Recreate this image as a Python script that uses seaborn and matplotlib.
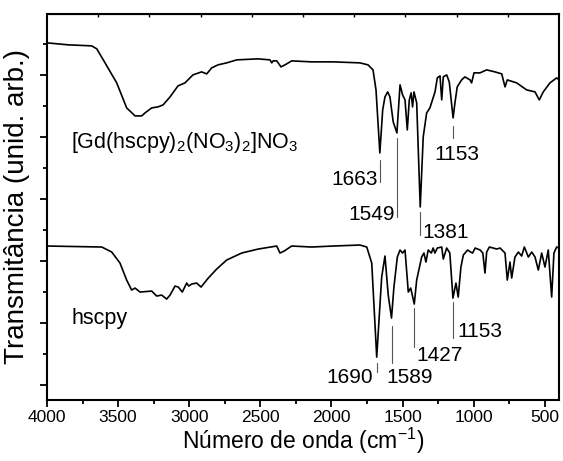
import numpy as np
import pandas as pd
import seaborn as sns
import matplotlib.pyplot as plt
from matplotlib.ticker import MultipleLocator

# spectra (wavenumber in cm-1, transmittance in arb. units)
gd_wn = [4000, 3850, 3686, 3650, 3592, 3510, 3440, 3381, 3334, 3311, 3264, 3220,
         3184, 3135, 3079, 3030, 2974, 2913, 2877, 2842, 2798, 2737, 2666, 2517,
         2432, 2420, 2410, 2385, 2355, 2327, 2280, 2139, 1989, 1800, 1743, 1708,
         1687, 1660, 1640, 1624, 1605, 1589, 1566, 1540, 1518, 1500, 1483, 1467,
         1453, 1440, 1430, 1420, 1401, 1376, 1355, 1331, 1308, 1272, 1256, 1237,
         1225, 1214, 1190, 1172, 1145, 1132, 1116, 1085, 1062, 1026, 1015, 998,
         956, 909, 851, 803, 780, 764, 698, 628, 569, 539, 511, 464, 417, 400]
gd_t = [342, 340, 339, 336, 322, 302, 277, 269, 269, 272, 277, 278,
        280, 288, 299, 302, 310, 313, 311, 317, 320, 322, 325, 326,
        325, 322, 324, 324, 318, 320, 324, 323, 323, 322, 320, 315,
        295, 232, 275, 288, 293, 288, 263, 252, 300, 290, 285, 255,
        285, 292, 278, 293, 282, 178, 248, 272, 277, 293, 307, 309,
        285, 308, 310, 303, 267, 282, 298, 305, 308, 305, 302, 312,
        312, 315, 313, 311, 298, 305, 302, 295, 293, 285, 293, 302, 307, 305]

hs_wn = [4000, 3615, 3545, 3487, 3440, 3405, 3381, 3346, 3264, 3229, 3194, 3159,
         3135, 3100, 3077, 3049, 3018, 3004, 2983, 2948, 2917, 2866, 2807, 2737,
         2631, 2514, 2385, 2362, 2332, 2280, 2139, 1987, 1800, 1752, 1717, 1682,
         1647, 1624, 1601, 1578, 1561, 1537, 1518, 1500, 1483, 1460, 1443, 1418,
         1401, 1366, 1350, 1336, 1320, 1298, 1285, 1273, 1256, 1225, 1214, 1190,
         1168, 1146, 1125, 1109, 1090, 1073, 1043, 1022, 1008, 990, 955, 936,
         921, 909, 890, 838, 815, 780, 764, 745, 733, 710, 686, 663, 644, 616,
         592, 569, 546, 522, 499, 476, 452, 436, 417, 400]
hs_t = [139, 138, 133, 122, 105, 95, 97, 93, 94, 89, 90, 86,
        90, 99, 98, 93, 102, 99, 101, 102, 98, 107, 116, 125,
        132, 136, 139, 132, 134, 139, 138, 139, 140, 138, 122, 28,
        108, 129, 90, 67, 98, 128, 135, 132, 135, 93, 97, 81,
        105, 128, 132, 123, 135, 132, 137, 132, 137, 138, 126, 137,
        132, 87, 102, 88, 118, 130, 135, 133, 132, 137, 135, 132,
        112, 133, 138, 136, 137, 132, 105, 123, 107, 128, 133, 129, 138, 128,
        133, 128, 115, 132, 118, 135, 88, 132, 138, 137]

gd_name = '[Gd(hscpy)$_2$(NO$_3$)$_2$]NO$_3$'
hs_name = 'hscpy'

# peak labels: (text, line x, line y0, line y1, text x, text y, ha)
gd_peaks = [('1663', 1660, 225, 203, 1672, 205, 'right'),
            ('1549', 1540, 247, 168, 1552, 170, 'right'),
            ('1381', 1376, 173, 150, 1362, 153, 'left'),
            ('1153', 1145, 259, 247, 1118, 230, 'center')]
hs_peaks = [('1690', 1682, 22, 13, 1708, 8, 'right'),
            ('1589', 1578, 59, 22, 1612, 8, 'left'),
            ('1427', 1418, 77, 38, 1400, 30, 'left'),
            ('1153', 1146, 83, 47, 1118, 54, 'left')]

sns.set_style('ticks')
plt.rcParams['font.family'] = ['Liberation Sans', 'DejaVu Sans']
plt.rcParams['mathtext.fontset'] = 'custom'
plt.rcParams['mathtext.rm'] = 'Liberation Sans'
plt.rcParams['mathtext.it'] = 'Liberation Sans'
plt.rcParams['mathtext.default'] = 'regular'
for k in ['text.color', 'axes.labelcolor', 'xtick.color', 'ytick.color', 'axes.edgecolor']:
    plt.rcParams[k] = 'black'

df = pd.concat([
    pd.DataFrame({'wn': gd_wn, 't': gd_t, 'amostra': gd_name}),
    pd.DataFrame({'wn': hs_wn, 't': hs_t, 'amostra': hs_name}),
])

fig = plt.figure(figsize=(5.63, 4.61), dpi=100)
ax = fig.add_axes([0.0835, 0.132, 0.9095, 0.838])

for name in [gd_name, hs_name]:
    sub = df[df['amostra'] == name]
    sns.lineplot(data=sub, x='wn', y='t', color='black', lw=1.2,
                 estimator=None, sort=False, ax=ax)

for peaks in [gd_peaks, hs_peaks]:
    for txt, lx, y0, y1, tx, ty, ha in peaks:
        ax.plot([lx, lx], [y0, y1], color='#555555', lw=0.8)
        ax.text(tx, ty, txt, ha=ha, va='center', fontsize=15)

ax.text(3831, 242, gd_name, ha='left', va='center', fontsize=15.5)
ax.text(3831, 67, hs_name, ha='left', va='center', fontsize=15.5)

ax.set_xlim(4000, 400)
ax.set_ylim(-15, 371)
ax.xaxis.set_major_locator(MultipleLocator(500))
ax.xaxis.set_minor_locator(MultipleLocator(250))
ax.yaxis.set_major_locator(MultipleLocator(62))
ax.yaxis.set_minor_locator(MultipleLocator(31))
ax.set_yticklabels([])
ax.tick_params(which='major', direction='out', length=5, width=1.3, labelsize=12.5)
ax.tick_params(which='minor', direction='out', length=3, width=1.3)
ax.tick_params(axis='x', which='major', pad=2)
for s in ax.spines.values():
    s.set_linewidth(1.5)

top = ax.secondary_xaxis('top')
top.set_xticks([4000 - 360 * k for k in range(1, 10)])
top.set_xticklabels([])
top.tick_params(direction='in', length=2.5, width=1)

ax.set_xlabel('Número de onda (cm$^{-1}$)', fontsize=16.5, labelpad=1)
ax.set_ylabel('Transmitância (unid. arb.)', fontsize=20, labelpad=4)

fig.savefig('out.png', dpi=100)
